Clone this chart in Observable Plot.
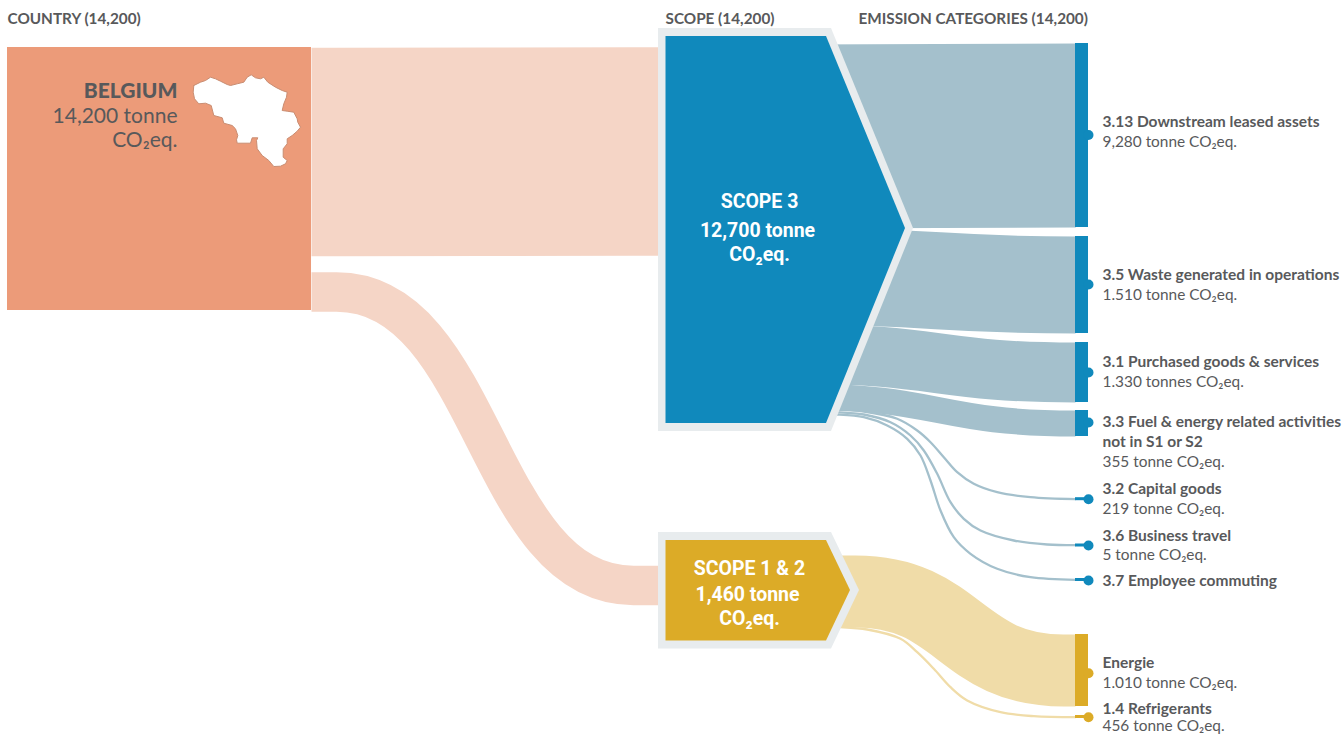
<!DOCTYPE html>
<html>
<head>
<meta charset="utf-8">
<script src="https://cdn.jsdelivr.net/npm/d3@7"></script>
<script src="https://cdn.jsdelivr.net/npm/@observablehq/plot@0.6"></script>
<style>
  html, body { margin: 0; padding: 0; background: #fff; }
  svg { display: block; background: #fff; }
</style>
</head>
<body>
<div id="chart"></div>
<script>
// ---- values ----
const columnTitles = ["COUNTRY (14,200)", "SCOPE (14,200)", "EMISSION CATEGORIES (14,200)"];
const columnTitleX = [7, 665, 858];

const categories = ["3.13", "3.5", "3.1", "3.3", "3.2", "3.6", "3.7", "Energie", "1.4"];
const categoryGroup = ["s3", "s3", "s3", "s3", "s3", "s3", "s3", "s12", "s12"];
const targetTop = [43, 236, 342, 410, 497.2, 543.5, 578, 634, 715];
const targetBottom = [227, 333, 402, 436, 500.2, 546.5, 581, 706, 718];
const dotY = [134.5, 284, 372, 422, 498.7, 545, 580, 672.7, 716.7];

// wide scope 3 flows
const bandNames = ["3.13", "3.5", "3.1", "3.3"];
const bandWidth = [184, 97, 60, 26];
const bandSourceY = [136, 276, 353.5, 396];
const bandTargetY = [135, 284.5, 372, 423];
const bandX = [800, 1075];

// wide scope 1 & 2 flow: flat legs, then the bend
const energyWidth = 72;
const energyX = [835, 855, 1063, 1075];
const energyY = [591, 591, 670, 670];

// thin flows, traced along their course
const thinCapitalX = [830, 836.7, 863.3, 896.7, 916.7, 930, 943.3, 956.7, 973.3, 996.7, 1030, 1075];
const thinCapitalY = [409.2, 409.3, 411, 418.3, 430, 441.7, 456.7, 471.7, 483.3, 491.7, 496.7, 498.7];
const thinTravelX = [830, 836.7, 863.3, 890, 910, 923.3, 936.7, 950, 963.3, 980, 1013.3, 1046.7, 1075];
const thinTravelY = [411.6, 411.7, 414, 421.7, 435, 450, 473.3, 501.7, 518.3, 530, 540, 544, 544.7];
const thinCommuteX = [830, 836.7, 863.3, 886.7, 906.7, 920, 930, 940, 953.3, 970, 996.7, 1030, 1075];
const thinCommuteY = [413.9, 414, 416.7, 425, 438.3, 455, 480, 510, 536.7, 553.3, 568.3, 576.7, 579.3];
const thinRefrigerantX = [830, 840, 866.7, 900, 916.7, 933.3, 950, 966.7, 1000, 1033.3, 1075];
const thinRefrigerantY = [626.6, 626.7, 629, 638.3, 651.7, 668.3, 686.7, 700, 711.7, 715.7, 716.7];

// country flows: flat legs, then the bend
const countryFlowWidth = [208.5, 39.5];
const countryFlowX = [311, 336, 633, 658];
const countryFlowLeftY = [151.5, 291.5];
const countryFlowRightY = [151, 585];

const boldLabels = [
  "3.13 Downstream leased assets", "3.5 Waste generated in operations", "3.1 Purchased goods & services",
  "3.3 Fuel & energy related activities", "not in S1 or S2", "3.2 Capital goods", "3.6 Business travel",
  "3.7 Employee commuting", "Energie", "1.4 Refrigerants"
];
const boldLabelY = [122, 275, 362, 422, 442, 489, 536, 581, 663, 708.5];
const valueLabels = [
  "9,280 tonne CO₂eq.", "1.510 tonne CO₂eq.", "1.330 tonnes CO₂eq.", "355 tonne CO₂eq.",
  "219 tonne CO₂eq.", "5 tonne CO₂eq.", "1.010 tonne CO₂eq.", "456 tonne CO₂eq."
];
const valueLabelY = [142, 295, 382, 462, 509, 555, 683, 725.5];

const scope3ShapeX = [665.5, 826, 905];
const scope3ShapeTop = [36, 36, 228];
const scope3ShapeBottom = [423, 423, 228];
const scope3HaloX = [658, 831, 913];
const scope3HaloTop = [28, 28, 228];
const scope3HaloBottom = [431, 431, 228];
const scope12ShapeX = [665.5, 826, 850];
const scope12ShapeTop = [540, 540, 590];
const scope12ShapeBottom = [640.5, 640.5, 590];
const scope12HaloX = [658, 831, 859];
const scope12HaloTop = [532, 532, 590];
const scope12HaloBottom = [648.5, 648.5, 590];

const belgiumOutlineX = [193.3,200,205,210,215,220,226.7,230,236.7,243.3,246.7,250.7,255,260,263.3,267.3,275,281.7,286.7,286,283.3,281.7,286.7,293.3,296.7,297.3,300,296.7,291.7,286.7,286.7,282.7,282.7,286.7,285,280,273.3,268.3,261.7,256.7,256,257.3,251.7,250,236.7,236,237.3,235,231.7,223.3,221.7,213.3,210.7,205,198.3,194,192.7,193.3];
const belgiumOutlineY = [85,81.7,80,76.7,78.3,80.7,84,85,83.3,81.7,76.7,74.3,77.3,78.3,76.7,81.7,86.7,90,91.7,96.7,103.3,110,110.7,111.7,118.3,121.7,126.7,130.7,135,138.3,143.3,148.3,156.7,160,163.3,165.7,166,160,155,148.3,140,137.3,137.3,142.7,142.7,139.3,135,128.3,125,122.7,117.3,115,105,102.7,103.3,98.3,91.7,85];

// ---- tables built from the arrays ----
const bandRows = bandNames.flatMap((id, i) => [
  {id, x: bandX[0], y: bandSourceY[i], w: bandWidth[i]},
  {id, x: bandX[1], y: bandTargetY[i], w: bandWidth[i]}
]);
const energyRows = energyX.map((x, i) => ({id: "Energie", x, y: energyY[i], w: energyWidth}));
const trace = (id, xs, ys) => xs.map((x, i) => ({id, x, y: ys[i]}));
const thinBlue = [
  ...trace("3.2", thinCapitalX, thinCapitalY),
  ...trace("3.6", thinTravelX, thinTravelY),
  ...trace("3.7", thinCommuteX, thinCommuteY)
];
const thinGold = trace("1.4", thinRefrigerantX, thinRefrigerantY);
const countryRows = countryFlowWidth.flatMap((w, i) => countryFlowX.map((x, j) => ({
  id: i, x, w, y: j < 2 ? countryFlowLeftY[i] : countryFlowRightY[i]
})));
const targets = categories.map((c, i) => ({c, g: categoryGroup[i], y1: targetTop[i], y2: targetBottom[i], dot: dotY[i]}));
const shape = (xs, t, b) => xs.map((x, i) => ({x, y1: t[i], y2: b[i]}));
const belgium = belgiumOutlineX.map((x, i) => ({x, y: belgiumOutlineY[i]}));

const BLUE = "#1089bc", GOLD = "#dcab27", PEACH = "#ec9b79";
const BAND_BLUE = "#a4c0cc", BAND_GOLD = "#f0dca8", BAND_PEACH = "#f5d5c6", HALO = "#e8ecee", INK = "#58595b";
const SANS = "Lato, 'Noto Sans', sans-serif";
const NARROW = "Roboto, sans-serif";

const flow = (rows, stroke) => Plot.line(rows, {x: "x", y: "y", z: "id", strokeWidth: "w", stroke, curve: "bump-x", strokeLinecap: "butt", strokeLinejoin: "round"});
const thin = (rows, stroke) => Plot.line(rows, {x: "x", y: "y", z: "id", strokeWidth: 2.3, stroke, curve: "catmull-rom"});
const arrow = (data, fill) => Plot.areaY(data, {x: "x", y1: "y1", y2: "y2", fill, curve: "linear"});
const txt = (data, o) => Plot.text(data, {text: d => d.t, x: d => d.x, y: d => d.y, lineAnchor: "middle", fontFamily: SANS, ...o});
const place = (ts, ys, x) => ts.map((t, i) => ({t, y: ys[i], x}));

const chart = Plot.plot({
  width: 1344,
  height: 735,
  margin: 0,
  x: {axis: null, domain: [0, 1344], range: [0, 1344]},
  y: {axis: null, domain: [0, 735], range: [0, 735]},
  marks: [
    // flows
    flow(countryRows, BAND_PEACH),
    flow(bandRows, BAND_BLUE),
    flow(energyRows, BAND_GOLD),
    thin(thinBlue, BAND_BLUE),
    thin(thinGold, BAND_GOLD),
    // nodes
    Plot.rect([{}], {x1: () => 7, x2: () => 311, y1: () => 47, y2: () => 310, fill: PEACH}),
    arrow(shape(scope3HaloX, scope3HaloTop, scope3HaloBottom), HALO),
    arrow(shape(scope3ShapeX, scope3ShapeTop, scope3ShapeBottom), BLUE),
    arrow(shape(scope12HaloX, scope12HaloTop, scope12HaloBottom), HALO),
    arrow(shape(scope12ShapeX, scope12ShapeTop, scope12ShapeBottom), GOLD),
    Plot.line(belgium, {x: "x", y: "y", curve: "linear", fill: "#fff", stroke: "#c98d72", strokeWidth: 1}),
    // end bars and dots
    Plot.rect(targets, {x1: () => 1075, x2: () => 1088, y1: "y1", y2: "y2", fill: d => d.g === "s3" ? BLUE : GOLD}),
    Plot.dot(targets.filter(d => d.g === "s3"), {x: () => 1088, y: "dot", r: 5, fill: BLUE}),
    Plot.dot(targets.filter(d => d.g === "s12"), {x: () => 1088, y: "dot", r: 5, fill: GOLD}),
    // column titles
    txt(columnTitles.map((t, i) => ({t, x: columnTitleX[i], y: 19})), {textAnchor: "start", fontSize: 15.3, fontWeight: 700, fill: INK}),
    // country label
    txt([{t: "BELGIUM", x: 177, y: 91}], {textAnchor: "end", fontSize: 21, fontWeight: 900, fill: INK}),
    txt([{t: "14,200 tonne", x: 177, y: 116}, {t: "CO₂eq.", x: 177, y: 140}], {textAnchor: "end", fontSize: 21, fill: INK}),
    // scope labels
    txt([
      {t: "SCOPE 3", x: 759, y: 200.5}, {t: "12,700 tonne", x: 757, y: 230}, {t: "CO₂eq.", x: 759, y: 253.5},
      {t: "SCOPE 1 & 2", x: 749, y: 567.5}, {t: "1,460 tonne", x: 747, y: 594.3}, {t: "CO₂eq.", x: 749, y: 617.8}
    ], {textAnchor: "middle", fontSize: 20.5, fontWeight: 700, fill: "#fff", fontFamily: NARROW, className: "narrow"}),
    // category labels
    txt(place(boldLabels, boldLabelY, 1102), {textAnchor: "start", fontSize: 15.5, fontWeight: 700, fill: INK}),
    txt(place(valueLabels, valueLabelY, 1102), {textAnchor: "start", fontSize: 15.4, fill: INK})
  ]
});
document.getElementById("chart").appendChild(chart);

// condensed look for the scope labels
d3.select(chart).selectAll(".narrow text").each(function () {
  const len = this.getComputedTextLength();
  this.setAttribute("lengthAdjust", "spacingAndGlyphs");
  this.setAttribute("textLength", len * 0.95);
});
</script>
</body>
</html>
